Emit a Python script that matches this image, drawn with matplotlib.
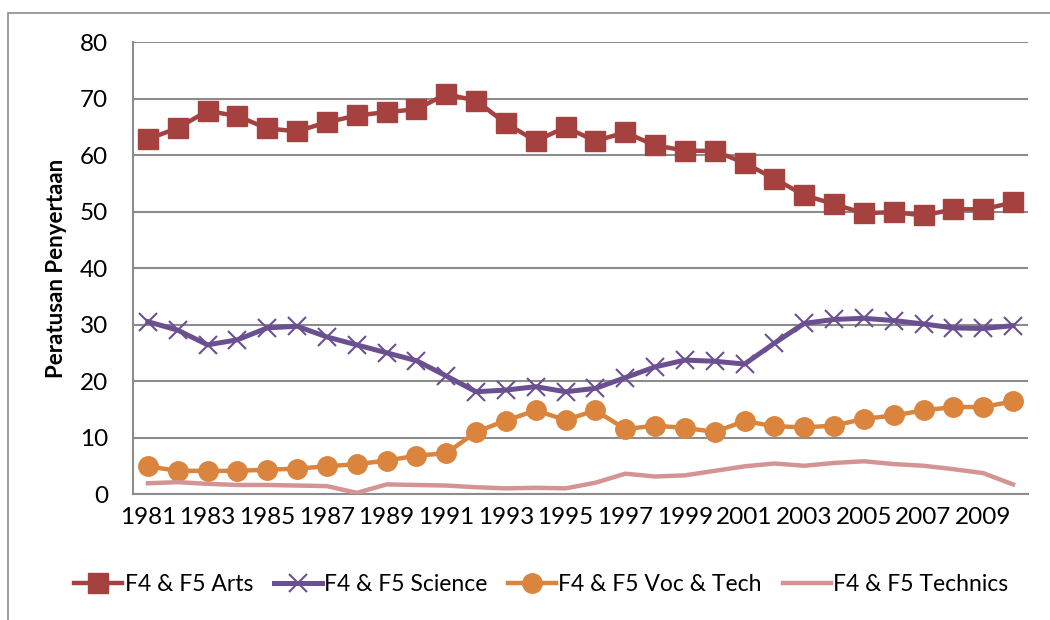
import numpy as np
import matplotlib
matplotlib.use("Agg")
import matplotlib.pyplot as plt
from matplotlib.patches import Rectangle

plt.rcParams["font.family"] = ["Lato", "DejaVu Sans"]

years = list(range(1981, 2011))
arts = [62.8, 64.8, 67.8, 66.9, 64.7, 64.2, 65.8, 67.0, 67.6, 68.1,
        70.8, 69.6, 65.6, 62.5, 64.9, 62.5, 64.0, 61.7, 60.8, 60.7,
        58.6, 55.8, 52.9, 51.3, 49.7, 49.9, 49.3, 50.4, 50.4, 51.6]
science = [30.5, 29.0, 26.4, 27.3, 29.4, 29.7, 27.8, 26.4, 25.0, 23.6,
           20.9, 18.1, 18.4, 19.0, 18.1, 18.7, 20.6, 22.5, 23.7, 23.5,
           23.0, 26.7, 30.2, 30.9, 31.1, 30.7, 30.1, 29.4, 29.3, 29.8]
voctech = [4.9, 4.1, 4.1, 4.1, 4.3, 4.5, 4.9, 5.3, 5.9, 6.8,
           7.2, 11.0, 13.0, 14.8, 13.1, 14.8, 11.5, 12.1, 11.7, 11.0,
           12.9, 12.0, 11.8, 12.1, 13.3, 13.9, 14.8, 15.4, 15.4, 16.4]
technics = [1.9, 2.1, 1.8, 1.6, 1.6, 1.5, 1.4, 0.2, 1.7, 1.6,
            1.5, 1.2, 1.0, 1.1, 1.0, 2.0, 3.6, 3.1, 3.3, 4.1,
            4.9, 5.4, 5.0, 5.5, 5.8, 5.3, 5.0, 4.4, 3.7, 1.7]
labels = ["F4 & F5 Arts", "F4 & F5 Science", "F4 & F5 Voc & Tech", "F4 & F5 Technics"]

fig = plt.figure(figsize=(10.5, 6.2), dpi=100)
ax = fig.add_axes([0.1267, 0.2032, 0.8523, 0.7290])

x = np.arange(len(years))
ax.plot(x, arts, color="#A5423F", lw=3.2, marker="s", ms=14, label=labels[0], zorder=3)
ax.plot(x, science, color="#6B5091", lw=3.6, marker="x", ms=13, mew=1.5, label=labels[1], zorder=3)
ax.plot(x, voctech, color="#DB843D", lw=3.2, marker="o", ms=14, label=labels[2], zorder=3)
ax.plot(x, technics, color="#D59494", lw=3.2, label=labels[3], zorder=3)

ax.set_xlim(-0.5, len(years) - 0.5)
ax.set_ylim(0, 80)
ax.set_yticks(range(0, 81, 10))
ax.set_xticks(x[::2])
ax.set_xticklabels([str(y) for y in years[::2]])
ax.tick_params(axis="both", length=0, labelsize=17.5)
ax.tick_params(axis="x", pad=9)
ax.tick_params(axis="y", pad=18)
ax.grid(axis="y", color="#8C8C8C", lw=1.5)
ax.set_axisbelow(True)
for s in ["top", "right"]:
    ax.spines[s].set_visible(False)
ax.spines["left"].set_color("#8C8C8C")
ax.spines["bottom"].set_color("#8C8C8C")
ax.spines["left"].set_linewidth(1.5)
ax.spines["bottom"].set_linewidth(1.5)
ax.set_ylabel("Peratusan Penyertaan", fontsize=16, fontweight="bold", labelpad=9)

ax.legend(loc="center", bbox_to_anchor=(0.456, -0.201), ncol=4, frameon=False,
          fontsize=16.5, handlelength=2.1, handletextpad=0.1, columnspacing=0.9)

fig.patches.append(Rectangle((8 / 1050, -0.1), 1.2, 1 - 13 / 620 + 0.1,
                             transform=fig.transFigure, fill=False,
                             edgecolor="#8C8C8C", lw=1.2))

fig.savefig("out.png", dpi=100)
